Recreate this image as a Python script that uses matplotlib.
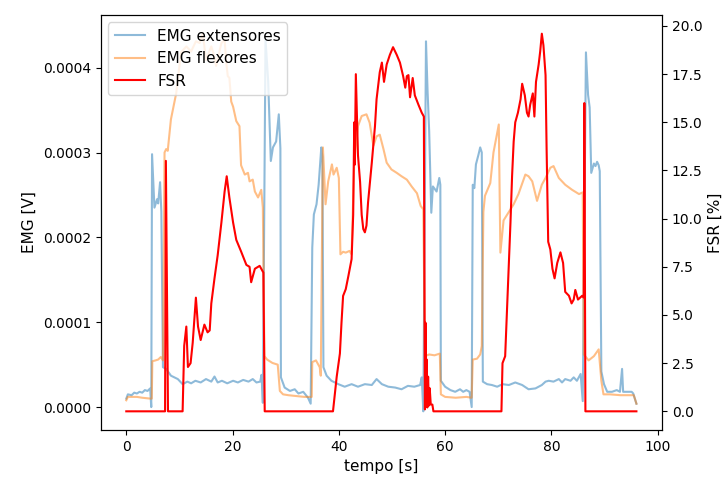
import numpy as np
import matplotlib
matplotlib.use('Agg')
import matplotlib.pyplot as plt

# EMG extensores (values in 1e-4 V)
ext_t = [0, 0.3, 1.0, 1.5, 2.0, 2.5, 3.0, 3.5, 4.0, 4.5, 4.7, 4.85, 5.3, 5.8, 6.0, 6.36, 6.6,
         6.9, 7.5, 8.4, 9.7, 10.6, 11.5, 12.2, 13.0, 14.0, 15.0, 16.0, 16.6, 17.2, 18.0, 19.0,
         20.1, 21.0, 22.0, 23.0, 23.8, 24.5, 25.2, 25.45, 25.7, 26.2, 26.7, 27.2, 27.6, 28.2,
         28.7, 29.0, 29.1, 29.8, 30.8, 31.7, 32.4, 33.3, 34.2, 34.7, 35.0, 35.3, 35.8, 36.2,
         36.7, 36.9, 37.1, 37.7, 38.6, 39.9, 41.1, 42.4, 43.6, 44.9, 46.2, 47.1, 48.1, 49.3,
         50.6, 51.8, 53.0, 54.2, 55.3, 55.6, 55.9, 56.4, 56.7, 57.0, 57.4, 57.7, 58.4, 58.9,
         59.1, 59.2, 60.0, 61.0, 61.9, 62.8, 63.4, 64.0, 64.6, 65.0, 65.2, 65.5, 65.8, 66.3,
         66.6, 66.9, 67.1, 67.9, 68.8, 69.8, 70.8, 72.0, 73.2, 74.5, 75.7, 77.0, 78.2, 78.9,
         79.5, 80.4, 81.4, 82.0, 82.6, 83.6, 84.2, 84.8, 85.5, 85.9, 86.5, 86.9, 87.2, 87.5,
         88.0, 88.3, 88.6, 88.9, 89.1, 89.4, 89.9, 90.5, 91.4, 92.3, 92.9, 93.3, 93.5, 94.2,
         95.1, 95.4, 96.0]
ext_v = [0.10, 0.15, 0.14, 0.17, 0.16, 0.18, 0.17, 0.20, 0.19, 0.22, 0.0, 2.98, 2.35, 2.45,
         2.40, 2.65, 2.30, 0.47, 0.45, 0.37, 0.33, 0.27, 0.30, 0.28, 0.31, 0.29, 0.33, 0.30,
         0.36, 0.29, 0.31, 0.28, 0.31, 0.29, 0.32, 0.30, 0.33, 0.29, 0.30, 0.38, 0.05, 4.33,
         3.84, 2.90, 3.06, 3.13, 3.45, 3.05, 0.35, 0.23, 0.19, 0.21, 0.16, 0.18, 0.11, 0.04,
         1.88, 2.27, 2.39, 2.62, 3.06, 2.95, 0.47, 0.37, 0.31, 0.27, 0.24, 0.27, 0.24, 0.27,
         0.26, 0.33, 0.27, 0.24, 0.23, 0.21, 0.25, 0.24, 0.26, 0.35, -0.05, 4.31, 3.72, 3.25,
         2.29, 2.60, 2.54, 2.70, 2.62, 0.31, 0.24, 0.20, 0.18, 0.21, 0.18, 0.20, 0.18, 0.0,
         2.62, 2.58, 2.86, 2.98, 3.06, 3.0, 0.30, 0.27, 0.26, 0.24, 0.27, 0.26, 0.29, 0.26,
         0.21, 0.22, 0.26, 0.30, 0.31, 0.30, 0.33, 0.29, 0.33, 0.31, 0.35, 0.31, 0.39, 0.07,
         4.18, 3.68, 3.53, 2.76, 2.87, 2.84, 2.89, 2.85, 2.78, 0.42, 0.27, 0.18, 0.18, 0.20,
         0.18, 0.45, 0.18, 0.18, 0.18, 0.16, 0.04]

# EMG flexores (values in 1e-4 V)
flex_t = [0, 0.3, 2.0, 3.0, 4.5, 4.8, 4.9, 5.5, 6.0, 6.5, 6.9, 7.2, 7.5, 7.8, 8.4, 9.4, 10.0,
          10.3, 11.3, 12.2, 13.1, 13.8, 14.4, 15.0, 16.0, 16.6, 16.9, 17.9, 18.5, 18.8, 19.1,
          19.4, 19.75, 20.1, 20.7, 21.3, 21.6, 22.3, 22.9, 23.2, 23.8, 24.2, 24.8, 25.4, 25.7,
          26.0, 26.5, 27.5, 28.5, 28.9, 29.5, 30.5, 32.0, 33.5, 34.9, 35.0, 35.7, 36.4, 36.6,
          37.0, 37.5, 38.0, 38.7, 39.0, 39.6, 40.0, 40.3, 40.8, 41.3, 42.0, 42.4, 42.9, 43.6,
          44.3, 45.2, 45.8, 46.5, 47.1, 47.7, 48.4, 49.0, 49.9, 50.9, 51.8, 52.8, 53.7, 54.7,
          55.4, 55.9, 56.2, 57.0, 58.0, 59.0, 59.2, 60.0, 62.0, 64.0, 65.0, 65.2, 66.0, 66.6,
          66.9, 67.2, 67.5, 68.5, 69.1, 70.1, 70.4, 71.0, 71.9, 72.9, 73.8, 75.1, 75.7, 76.4,
          77.3, 78.2, 78.9, 79.8, 80.4, 81.4, 82.6, 83.9, 85.2, 85.9, 86.1, 87.0, 88.0, 88.9,
          89.4, 89.8, 91.0, 93.0, 95.5, 96.0]
flex_v = [0.08, 0.12, 0.12, 0.11, 0.10, 0.10, 0.54, 0.55, 0.56, 0.59, 0.55, 3.0, 3.04, 3.02,
          3.39, 3.70, 4.02, 4.18, 4.25, 4.19, 4.31, 4.29, 4.40, 4.09, 4.25, 4.13, 4.02, 4.29,
          4.33, 4.07, 3.90, 3.88, 3.60, 3.54, 3.37, 3.31, 2.85, 2.74, 2.76, 2.66, 2.68, 2.54,
          2.47, 2.56, 2.35, 0.60, 0.56, 0.52, 0.50, 0.19, 0.15, 0.14, 0.13, 0.12, 0.12, 0.53,
          0.55, 0.47, 0.37, 3.06, 2.39, 2.66, 2.86, 2.74, 2.82, 2.70, 1.80, 1.83, 1.82, 1.84,
          1.80, 2.90, 3.31, 3.43, 3.45, 3.35, 3.08, 3.19, 3.21, 3.04, 2.88, 2.80, 2.76, 2.72,
          2.68, 2.60, 2.52, 2.37, 2.33, 0.60, 0.62, 0.61, 0.63, 0.15, 0.12, 0.11, 0.12, 0.11,
          0.56, 0.57, 0.62, 0.72, 2.30, 2.49, 2.64, 3.00, 3.33, 1.82, 2.20, 2.29, 2.39, 2.51,
          2.74, 2.72, 2.66, 2.43, 2.62, 2.70, 2.82, 2.84, 2.70, 2.62, 2.56, 2.51, 2.53, 0.62,
          0.55, 0.60, 0.68, 0.31, 0.15, 0.15, 0.14, 0.14, 0.04]

# FSR [%]
fsr_t = [0, 7.3, 7.45, 7.85, 10.6, 10.9, 11.3, 11.6, 12.1, 12.5, 13.1, 13.5, 14.0, 14.7, 15.3,
         15.7, 16.0, 16.6, 17.2, 17.9, 18.5, 18.9, 19.4, 20.1, 20.7, 21.6, 22.6, 23.2, 23.5,
         24.2, 25.1, 25.8, 26.05, 38.9, 39.6, 40.2, 40.5, 40.8, 41.3, 41.8, 42.4, 42.7, 42.9,
         43.0, 43.2, 43.4, 43.6, 44.0, 44.3, 44.6, 44.9, 45.2, 45.5, 46.2, 46.8, 47.1, 47.7,
         48.1, 48.5, 49.0, 49.6, 50.2, 50.9, 51.5, 52.1, 52.5, 52.8, 53.1, 53.4, 53.9, 54.3,
         55.0, 55.6, 56.0, 56.2, 56.3, 56.4, 56.5, 56.65, 56.8, 56.95, 57.1, 57.3, 57.6, 57.8,
         70.6, 70.8, 71.3, 71.6, 71.9, 72.3, 72.6, 72.9, 73.2, 73.7, 74.2, 74.5, 75.0, 75.4,
         75.7, 76.0, 76.5, 76.8, 77.1, 77.6, 77.9, 78.2, 78.5, 78.9, 79.1, 79.4, 79.8, 80.2,
         80.6, 81.1, 81.7, 82.2, 82.6, 83.3, 83.8, 84.2, 84.5, 85.0, 85.8, 86.1, 86.2, 86.4,
         96.0]
fsr_v = [0, 0, 13.0, 0, 0, 3.4, 4.4, 2.3, 2.5, 3.56, 5.9, 4.4, 3.7, 4.5, 4.1, 4.2, 5.6, 6.9,
         8.1, 9.8, 11.4, 12.2, 11.1, 9.8, 8.9, 8.3, 7.6, 7.5, 6.7, 7.4, 7.55, 7.2, 0, 0, 1.8,
         3.0, 4.6, 5.99, 6.34, 7.03, 7.9, 10.2, 15.0, 12.8, 17.5, 15.4, 13.3, 11.9, 10.2, 9.46,
         9.29, 9.64, 10.85, 12.9, 14.8, 16.2, 17.6, 18.1, 17.1, 18.0, 18.5, 18.9, 18.5, 18.1,
         17.4, 16.8, 17.4, 17.45, 16.3, 17.3, 16.4, 15.9, 15.5, 15.3, 0.1, 4.6, 0.4, 2.7, 0.2,
         1.8, 0.3, 1.2, 0.35, 0.35, 0, 0, 2.5, 2.86, 4.95, 7.03, 9.8, 12.2, 14.0, 15.0, 15.5,
         16.2, 17.0, 16.4, 15.5, 15.3, 15.9, 16.5, 15.3, 17.1, 18.0, 18.7, 19.6, 19.0, 17.45,
         13.6, 8.8, 8.4, 7.4, 6.9, 7.7, 8.25, 7.7, 6.2, 6.0, 5.6, 5.8, 6.3, 5.8, 6.0, 5.9, 16.0,
         0, 0]

fig, ax = plt.subplots(figsize=(7.25, 4.78), dpi=100)
fig.subplots_adjust(left=0.139, right=0.913, top=0.969, bottom=0.100)

l1, = ax.plot(ext_t, np.array(ext_v) * 1e-4, color='C0', alpha=0.5, label='EMG extensores')
l2, = ax.plot(flex_t, np.array(flex_v) * 1e-4, color='C1', alpha=0.5, label='EMG flexores')
ax.set_xlabel('tempo [s]', fontsize=11)
ax.set_ylabel('EMG [V]', fontsize=11)

ax2 = ax.twinx()
l3, = ax2.plot(fsr_t, fsr_v, color='red', label='FSR')
ax2.set_ylabel('FSR [%]', fontsize=11)

ax2.legend(handles=[l1, l2, l3], loc='upper left', fontsize=11)

plt.savefig('out.png')
